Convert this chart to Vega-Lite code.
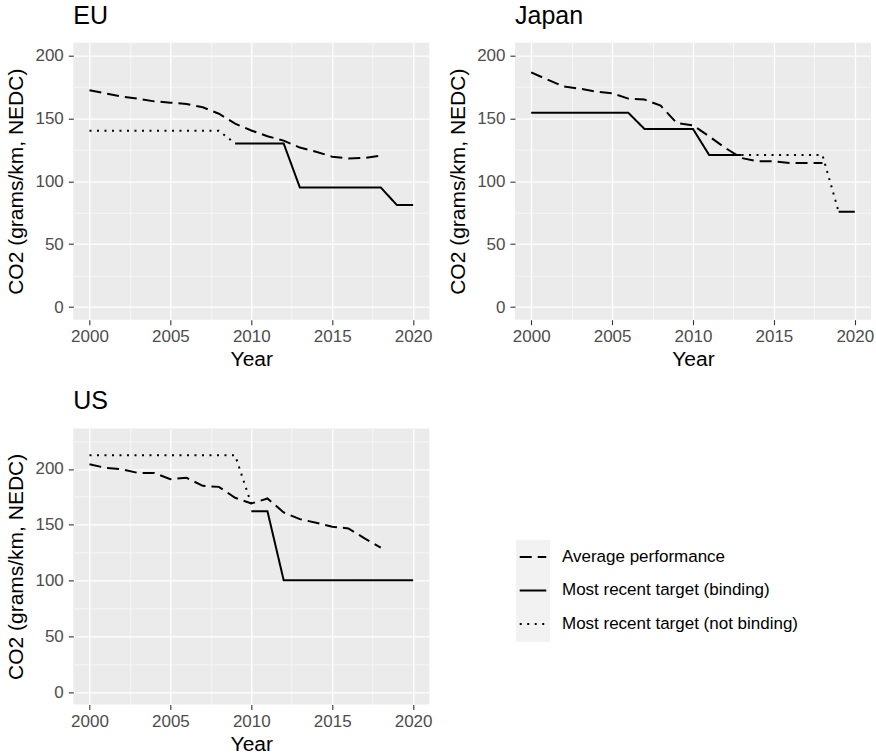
{
  "$schema": "https://vega.github.io/schema/vega-lite/v6.json",
  "padding": {"left": 5.3, "top": 3.7, "right": 5, "bottom": 5},
  "background": "white",
  "datasets": {
    "co2": [
      {"region": "EU", "series": "Average performance", "seg": "a", "year": 2000, "co2": 172.2},
      {"region": "EU", "series": "Average performance", "seg": "a", "year": 2001, "co2": 169.7},
      {"region": "EU", "series": "Average performance", "seg": "a", "year": 2002, "co2": 167.2},
      {"region": "EU", "series": "Average performance", "seg": "a", "year": 2003, "co2": 165.5},
      {"region": "EU", "series": "Average performance", "seg": "a", "year": 2004, "co2": 163.4},
      {"region": "EU", "series": "Average performance", "seg": "a", "year": 2005, "co2": 162.4},
      {"region": "EU", "series": "Average performance", "seg": "a", "year": 2006, "co2": 161.3},
      {"region": "EU", "series": "Average performance", "seg": "a", "year": 2007, "co2": 158.7},
      {"region": "EU", "series": "Average performance", "seg": "a", "year": 2008, "co2": 153.6},
      {"region": "EU", "series": "Average performance", "seg": "a", "year": 2009, "co2": 145.7},
      {"region": "EU", "series": "Average performance", "seg": "a", "year": 2010, "co2": 140.3},
      {"region": "EU", "series": "Average performance", "seg": "a", "year": 2011, "co2": 135.7},
      {"region": "EU", "series": "Average performance", "seg": "a", "year": 2012, "co2": 132.2},
      {"region": "EU", "series": "Average performance", "seg": "a", "year": 2013, "co2": 126.7},
      {"region": "EU", "series": "Average performance", "seg": "a", "year": 2014, "co2": 123.4},
      {"region": "EU", "series": "Average performance", "seg": "a", "year": 2015, "co2": 119.5},
      {"region": "EU", "series": "Average performance", "seg": "a", "year": 2016, "co2": 118.1},
      {"region": "EU", "series": "Average performance", "seg": "a", "year": 2017, "co2": 118.5},
      {"region": "EU", "series": "Average performance", "seg": "a", "year": 2018, "co2": 120.4},
      {"region": "EU", "series": "Most recent target (not binding)", "seg": "a", "year": 2000, "co2": 140},
      {"region": "EU", "series": "Most recent target (not binding)", "seg": "a", "year": 2001, "co2": 140},
      {"region": "EU", "series": "Most recent target (not binding)", "seg": "a", "year": 2002, "co2": 140},
      {"region": "EU", "series": "Most recent target (not binding)", "seg": "a", "year": 2003, "co2": 140},
      {"region": "EU", "series": "Most recent target (not binding)", "seg": "a", "year": 2004, "co2": 140},
      {"region": "EU", "series": "Most recent target (not binding)", "seg": "a", "year": 2005, "co2": 140},
      {"region": "EU", "series": "Most recent target (not binding)", "seg": "a", "year": 2006, "co2": 140},
      {"region": "EU", "series": "Most recent target (not binding)", "seg": "a", "year": 2007, "co2": 140},
      {"region": "EU", "series": "Most recent target (not binding)", "seg": "a", "year": 2008, "co2": 140},
      {"region": "EU", "series": "Most recent target (not binding)", "seg": "a", "year": 2009, "co2": 130},
      {"region": "EU", "series": "Most recent target (binding)", "seg": "a", "year": 2009, "co2": 130},
      {"region": "EU", "series": "Most recent target (binding)", "seg": "a", "year": 2010, "co2": 130},
      {"region": "EU", "series": "Most recent target (binding)", "seg": "a", "year": 2011, "co2": 130},
      {"region": "EU", "series": "Most recent target (binding)", "seg": "a", "year": 2012, "co2": 130},
      {"region": "EU", "series": "Most recent target (binding)", "seg": "a", "year": 2013, "co2": 95},
      {"region": "EU", "series": "Most recent target (binding)", "seg": "a", "year": 2014, "co2": 95},
      {"region": "EU", "series": "Most recent target (binding)", "seg": "a", "year": 2015, "co2": 95},
      {"region": "EU", "series": "Most recent target (binding)", "seg": "a", "year": 2016, "co2": 95},
      {"region": "EU", "series": "Most recent target (binding)", "seg": "a", "year": 2017, "co2": 95},
      {"region": "EU", "series": "Most recent target (binding)", "seg": "a", "year": 2018, "co2": 95},
      {"region": "EU", "series": "Most recent target (binding)", "seg": "a", "year": 2019, "co2": 81},
      {"region": "EU", "series": "Most recent target (binding)", "seg": "a", "year": 2020, "co2": 81},

      {"region": "Japan", "series": "Average performance", "seg": "a", "year": 2000, "co2": 186.5},
      {"region": "Japan", "series": "Average performance", "seg": "a", "year": 2001, "co2": 180.7},
      {"region": "Japan", "series": "Average performance", "seg": "a", "year": 2002, "co2": 175.2},
      {"region": "Japan", "series": "Average performance", "seg": "a", "year": 2003, "co2": 173.5},
      {"region": "Japan", "series": "Average performance", "seg": "a", "year": 2004, "co2": 171.2},
      {"region": "Japan", "series": "Average performance", "seg": "a", "year": 2005, "co2": 169.8},
      {"region": "Japan", "series": "Average performance", "seg": "a", "year": 2006, "co2": 165.6},
      {"region": "Japan", "series": "Average performance", "seg": "a", "year": 2007, "co2": 164.8},
      {"region": "Japan", "series": "Average performance", "seg": "a", "year": 2008, "co2": 160.0},
      {"region": "Japan", "series": "Average performance", "seg": "a", "year": 2009, "co2": 146.2},
      {"region": "Japan", "series": "Average performance", "seg": "a", "year": 2010, "co2": 144.4},
      {"region": "Japan", "series": "Average performance", "seg": "a", "year": 2011, "co2": 135.6},
      {"region": "Japan", "series": "Average performance", "seg": "a", "year": 2012, "co2": 126.4},
      {"region": "Japan", "series": "Average performance", "seg": "a", "year": 2013, "co2": 118.4},
      {"region": "Japan", "series": "Average performance", "seg": "a", "year": 2014, "co2": 115.8},
      {"region": "Japan", "series": "Average performance", "seg": "a", "year": 2015, "co2": 115.8},
      {"region": "Japan", "series": "Average performance", "seg": "a", "year": 2016, "co2": 114.4},
      {"region": "Japan", "series": "Average performance", "seg": "a", "year": 2017, "co2": 114.4},
      {"region": "Japan", "series": "Average performance", "seg": "a", "year": 2018, "co2": 114.4},
      {"region": "Japan", "series": "Most recent target (binding)", "seg": "a", "year": 2000, "co2": 154.4},
      {"region": "Japan", "series": "Most recent target (binding)", "seg": "a", "year": 2001, "co2": 154.4},
      {"region": "Japan", "series": "Most recent target (binding)", "seg": "a", "year": 2002, "co2": 154.4},
      {"region": "Japan", "series": "Most recent target (binding)", "seg": "a", "year": 2003, "co2": 154.4},
      {"region": "Japan", "series": "Most recent target (binding)", "seg": "a", "year": 2004, "co2": 154.4},
      {"region": "Japan", "series": "Most recent target (binding)", "seg": "a", "year": 2005, "co2": 154.4},
      {"region": "Japan", "series": "Most recent target (binding)", "seg": "a", "year": 2006, "co2": 154.4},
      {"region": "Japan", "series": "Most recent target (binding)", "seg": "a", "year": 2007, "co2": 141.5},
      {"region": "Japan", "series": "Most recent target (binding)", "seg": "a", "year": 2008, "co2": 141.5},
      {"region": "Japan", "series": "Most recent target (binding)", "seg": "a", "year": 2009, "co2": 141.5},
      {"region": "Japan", "series": "Most recent target (binding)", "seg": "a", "year": 2010, "co2": 141.5},
      {"region": "Japan", "series": "Most recent target (binding)", "seg": "a", "year": 2011, "co2": 120.8},
      {"region": "Japan", "series": "Most recent target (binding)", "seg": "a", "year": 2012, "co2": 120.8},
      {"region": "Japan", "series": "Most recent target (binding)", "seg": "a", "year": 2013, "co2": 120.8},
      {"region": "Japan", "series": "Most recent target (binding)", "seg": "b", "year": 2019, "co2": 75.8},
      {"region": "Japan", "series": "Most recent target (binding)", "seg": "b", "year": 2020, "co2": 75.8},
      {"region": "Japan", "series": "Most recent target (not binding)", "seg": "a", "year": 2013, "co2": 120.8},
      {"region": "Japan", "series": "Most recent target (not binding)", "seg": "a", "year": 2014, "co2": 120.8},
      {"region": "Japan", "series": "Most recent target (not binding)", "seg": "a", "year": 2015, "co2": 120.8},
      {"region": "Japan", "series": "Most recent target (not binding)", "seg": "a", "year": 2016, "co2": 120.8},
      {"region": "Japan", "series": "Most recent target (not binding)", "seg": "a", "year": 2017, "co2": 120.8},
      {"region": "Japan", "series": "Most recent target (not binding)", "seg": "a", "year": 2018, "co2": 120.8},
      {"region": "Japan", "series": "Most recent target (not binding)", "seg": "a", "year": 2019, "co2": 75.8},

      {"region": "US", "series": "Average performance", "seg": "a", "year": 2000, "co2": 204.2},
      {"region": "US", "series": "Average performance", "seg": "a", "year": 2001, "co2": 200.9},
      {"region": "US", "series": "Average performance", "seg": "a", "year": 2002, "co2": 199.7},
      {"region": "US", "series": "Average performance", "seg": "a", "year": 2003, "co2": 196.4},
      {"region": "US", "series": "Average performance", "seg": "a", "year": 2004, "co2": 196.4},
      {"region": "US", "series": "Average performance", "seg": "a", "year": 2005, "co2": 190.8},
      {"region": "US", "series": "Average performance", "seg": "a", "year": 2006, "co2": 192.0},
      {"region": "US", "series": "Average performance", "seg": "a", "year": 2007, "co2": 184.8},
      {"region": "US", "series": "Average performance", "seg": "a", "year": 2008, "co2": 183.9},
      {"region": "US", "series": "Average performance", "seg": "a", "year": 2009, "co2": 174.1},
      {"region": "US", "series": "Average performance", "seg": "a", "year": 2010, "co2": 169.0},
      {"region": "US", "series": "Average performance", "seg": "a", "year": 2011, "co2": 173.5},
      {"region": "US", "series": "Average performance", "seg": "a", "year": 2012, "co2": 161.0},
      {"region": "US", "series": "Average performance", "seg": "a", "year": 2013, "co2": 155.0},
      {"region": "US", "series": "Average performance", "seg": "a", "year": 2014, "co2": 151.8},
      {"region": "US", "series": "Average performance", "seg": "a", "year": 2015, "co2": 148.2},
      {"region": "US", "series": "Average performance", "seg": "a", "year": 2016, "co2": 146.7},
      {"region": "US", "series": "Average performance", "seg": "a", "year": 2017, "co2": 137.8},
      {"region": "US", "series": "Average performance", "seg": "a", "year": 2018, "co2": 129.5},
      {"region": "US", "series": "Most recent target (not binding)", "seg": "a", "year": 2000, "co2": 212.2},
      {"region": "US", "series": "Most recent target (not binding)", "seg": "a", "year": 2001, "co2": 212.2},
      {"region": "US", "series": "Most recent target (not binding)", "seg": "a", "year": 2002, "co2": 212.2},
      {"region": "US", "series": "Most recent target (not binding)", "seg": "a", "year": 2003, "co2": 212.2},
      {"region": "US", "series": "Most recent target (not binding)", "seg": "a", "year": 2004, "co2": 212.2},
      {"region": "US", "series": "Most recent target (not binding)", "seg": "a", "year": 2005, "co2": 212.2},
      {"region": "US", "series": "Most recent target (not binding)", "seg": "a", "year": 2006, "co2": 212.2},
      {"region": "US", "series": "Most recent target (not binding)", "seg": "a", "year": 2007, "co2": 212.2},
      {"region": "US", "series": "Most recent target (not binding)", "seg": "a", "year": 2008, "co2": 212.2},
      {"region": "US", "series": "Most recent target (not binding)", "seg": "a", "year": 2009, "co2": 212.2},
      {"region": "US", "series": "Most recent target (not binding)", "seg": "a", "year": 2010, "co2": 168.5},
      {"region": "US", "series": "Most recent target (binding)", "seg": "a", "year": 2010, "co2": 162.0},
      {"region": "US", "series": "Most recent target (binding)", "seg": "a", "year": 2011, "co2": 162.0},
      {"region": "US", "series": "Most recent target (binding)", "seg": "a", "year": 2012, "co2": 100.3},
      {"region": "US", "series": "Most recent target (binding)", "seg": "a", "year": 2013, "co2": 100.3},
      {"region": "US", "series": "Most recent target (binding)", "seg": "a", "year": 2014, "co2": 100.3},
      {"region": "US", "series": "Most recent target (binding)", "seg": "a", "year": 2015, "co2": 100.3},
      {"region": "US", "series": "Most recent target (binding)", "seg": "a", "year": 2016, "co2": 100.3},
      {"region": "US", "series": "Most recent target (binding)", "seg": "a", "year": 2017, "co2": 100.3},
      {"region": "US", "series": "Most recent target (binding)", "seg": "a", "year": 2018, "co2": 100.3},
      {"region": "US", "series": "Most recent target (binding)", "seg": "a", "year": 2019, "co2": 100.3},
      {"region": "US", "series": "Most recent target (binding)", "seg": "a", "year": 2020, "co2": 100.3}
    ]
  },
  "config": {
    "font": "Liberation Sans",
    "view": {"fill": "#EBEBEB", "stroke": null},
    "axis": {
      "domain": false,
      "gridColor": "#FFFFFF",
      "tickColor": "#333333",
      "tickSize": 5,
      "tickWidth": 1.1,
      "labelFont": "Liberation Sans",
      "labelFontSize": 17,
      "labelColor": "#4D4D4D",
      "labelPadding": 5,
      "titleFont": "Liberation Sans",
      "titleFontSize": 21,
      "titleFontWeight": "normal",
      "titleColor": "#000000",
      "titlePadding": 5,
      "labelOverlap": false,
      "labelFlush": false
    },
    "axisY": {"titlePadding": 8},
    "axisX": {"labelPadding": 4, "titlePadding": 4},
    "title": {
      "font": "Liberation Sans",
      "fontSize": 25,
      "fontWeight": "normal",
      "anchor": "start",
      "frame": "group",
      "baseline": "alphabetic",
      "offset": 14,
      "color": "#000000"
    },
    "legend": {
      "labelFont": "Liberation Sans",
      "labelFontSize": 17,
      "labelColor": "#000000",
      "labelLimit": 400
    }
  },
  "columns": 2,
  "spacing": {"row": 108.7, "column": 85.7},
  "bounds": "flush",
  "concat": [
    {
      "title": {"text": "EU"},
      "width": 356,
      "height": 277,
      "data": {"name": "co2"},
      "transform": [{"filter": "datum.region === 'EU'"}],
      "mark": {"type": "line", "color": "black", "strokeWidth": 2},
      "encoding": {
        "x": {"field": "year", "type": "quantitative", "scale": {"domain": [1999, 2021], "nice": false, "zero": false},
          "axis": {"title": "Year", "values": [2000, 2002.5, 2005, 2007.5, 2010, 2012.5, 2015, 2017.5, 2020], "format": "d",
            "labelExpr": "datum.value % 5 === 0 ? datum.label : ''",
            "tickOpacity": {"condition": {"test": "datum.value % 5 !== 0", "value": 0}, "value": 1},
            "gridWidth": {"condition": {"test": "datum.value % 5 !== 0", "value": 0.6}, "value": 1.3}}},
        "y": {"field": "co2", "type": "quantitative", "scale": {"domain": [-10, 210], "nice": false, "zero": false},
          "axis": {"title": "CO2 (grams/km, NEDC)", "values": [0, 25, 50, 75, 100, 125, 150, 175, 200],
            "labelExpr": "datum.value % 50 === 0 ? datum.label : ''",
            "tickOpacity": {"condition": {"test": "datum.value % 50 !== 0", "value": 0}, "value": 1},
            "gridWidth": {"condition": {"test": "datum.value % 50 !== 0", "value": 0.6}, "value": 1.3}}},
        "strokeDash": {"field": "series", "type": "nominal", "scale": {"range": [[12, 6], [1, 0], [2, 5.5]]},
          "legend": {"title": null, "orient": "none", "legendX": 442.7, "legendY": 497.3, "symbolType": "M-0.83,0H0.83", "symbolSize": 1024, "symbolStrokeWidth": 2, "symbolStrokeColor": "#000000", "rowPadding": 8.5, "padding": 0, "labelOffset": 12, "zindex": 1}},
        "detail": {"field": "seg", "type": "nominal"}
      }
    },
    {
      "title": {"text": "Japan"},
      "width": 356,
      "height": 277,
      "data": {"name": "co2"},
      "transform": [{"filter": "datum.region === 'Japan'"}],
      "mark": {"type": "line", "color": "black", "strokeWidth": 2},
      "encoding": {
        "x": {"field": "year", "type": "quantitative", "scale": {"domain": [1999, 2021], "nice": false, "zero": false},
          "axis": {"title": "Year", "values": [2000, 2002.5, 2005, 2007.5, 2010, 2012.5, 2015, 2017.5, 2020], "format": "d",
            "labelExpr": "datum.value % 5 === 0 ? datum.label : ''",
            "tickOpacity": {"condition": {"test": "datum.value % 5 !== 0", "value": 0}, "value": 1},
            "gridWidth": {"condition": {"test": "datum.value % 5 !== 0", "value": 0.6}, "value": 1.3}}},
        "y": {"field": "co2", "type": "quantitative", "scale": {"domain": [-10, 210], "nice": false, "zero": false},
          "axis": {"title": "CO2 (grams/km, NEDC)", "values": [0, 25, 50, 75, 100, 125, 150, 175, 200],
            "labelExpr": "datum.value % 50 === 0 ? datum.label : ''",
            "tickOpacity": {"condition": {"test": "datum.value % 50 !== 0", "value": 0}, "value": 1},
            "gridWidth": {"condition": {"test": "datum.value % 50 !== 0", "value": 0.6}, "value": 1.3}}},
        "strokeDash": {"field": "series", "type": "nominal", "scale": {"range": [[12, 6], [1, 0], [2, 5.5]]},
          "legend": {"title": null, "orient": "none", "legendX": 442.7, "legendY": 497.3, "symbolType": "M-0.83,0H0.83", "symbolSize": 1024, "symbolStrokeWidth": 2, "symbolStrokeColor": "#000000", "rowPadding": 8.5, "padding": 0, "labelOffset": 12, "zindex": 1}},
        "detail": {"field": "seg", "type": "nominal"}
      }
    },
    {
      "title": {"text": "US"},
      "width": 356,
      "height": 276,
      "data": {"name": "co2"},
      "transform": [{"filter": "datum.region === 'US'"}],
      "encoding": {
        "x": {"field": "year", "type": "quantitative", "scale": {"domain": [1999, 2021], "nice": false, "zero": false},
          "axis": {"title": "Year", "values": [2000, 2002.5, 2005, 2007.5, 2010, 2012.5, 2015, 2017.5, 2020], "format": "d",
            "labelExpr": "datum.value % 5 === 0 ? datum.label : ''",
            "tickOpacity": {"condition": {"test": "datum.value % 5 !== 0", "value": 0}, "value": 1},
            "gridWidth": {"condition": {"test": "datum.value % 5 !== 0", "value": 0.6}, "value": 1.3}}},
        "y": {"field": "co2", "type": "quantitative", "scale": {"domain": [-11, 236.3], "nice": false, "zero": false},
          "axis": {"title": "CO2 (grams/km, NEDC)", "values": [0, 25, 50, 75, 100, 125, 150, 175, 200, 225],
            "labelExpr": "datum.value % 50 === 0 ? datum.label : ''",
            "tickOpacity": {"condition": {"test": "datum.value % 50 !== 0", "value": 0}, "value": 1},
            "gridWidth": {"condition": {"test": "datum.value % 50 !== 0", "value": 0.6}, "value": 1.3}}}
      },
      "layer": [
        {
          "mark": {"type": "point", "filled": true, "opacity": 0, "color": "#F2F2F2"},
          "encoding": {
            "shape": {"field": "series", "type": "nominal",
              "scale": {"domain": ["Average performance", "Most recent target (binding)", "Most recent target (not binding)"], "range": ["square", "square", "square"]},
              "legend": {"title": null, "orient": "none", "legendX": 442.7, "legendY": 497.3, "symbolSize": 1156, "symbolFillColor": "#F2F2F2", "symbolStrokeWidth": 0, "symbolOpacity": 1, "labelExpr": "''", "rowPadding": 0, "padding": 0, "labelOffset": 12, "zindex": 0}}
          }
        },
        {
          "mark": {"type": "line", "color": "black", "strokeWidth": 2},
          "encoding": {
            "strokeDash": {"field": "series", "type": "nominal", "scale": {"range": [[12, 6], [1, 0], [2, 5.5]]},
              "legend": {"title": null, "orient": "none", "legendX": 442.7, "legendY": 497.3, "symbolType": "M-0.83,0H0.83", "symbolSize": 1024, "symbolStrokeWidth": 2, "symbolStrokeColor": "#000000", "rowPadding": 8.5, "padding": 0, "labelOffset": 12, "zindex": 1}},
            "detail": {"field": "seg", "type": "nominal"}
          }
        }
      ]
    }
  ]
}
